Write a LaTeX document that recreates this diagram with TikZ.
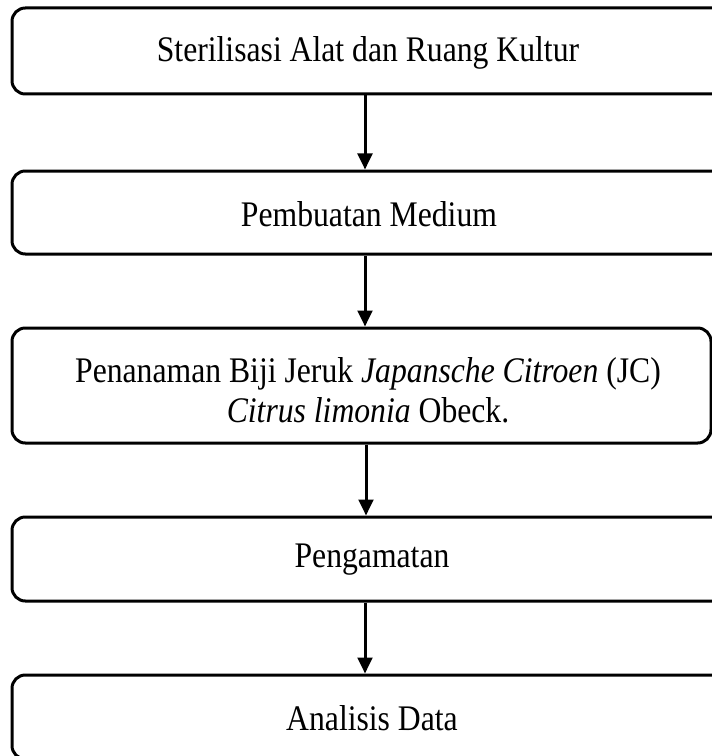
\documentclass[tikz,border=0pt]{standalone}
\usepackage{fontspec}
\setmainfont{Liberation Serif}[FakeStretch=0.88]
\usetikzlibrary{arrows.meta}
\begin{document}
\begin{tikzpicture}[x=0.75pt,y=-0.75pt,
  box/.style={draw=black,line width=2.25pt,rounded corners=10pt,rectangle,inner sep=0pt,align=center,font=\fontsize{27pt}{30pt}\selectfont},
  label/.style={inner sep=0pt,align=center,font=\fontsize{27pt}{30pt}\selectfont},
  flow/.style={draw=black,line width=2.25pt,-{Triangle[width=11pt,length=12pt]}}]
\useasboundingbox (0,0) rectangle (712,756);
\clip (0,0) rectangle (712,756);
\node[box,minimum width=718*0.75pt,minimum height=86*0.75pt] (b1) at (371,51) {};
\node[label] (t1) at (368,53) {Sterilisasi Alat dan Ruang Kultur};
\node[box,minimum width=718*0.75pt,minimum height=83*0.75pt] (b2) at (371,212.5) {};
\node[label] (t2) at (369,214) {Pembuatan Medium};
\node[box,minimum width=699*0.75pt,minimum height=115*0.75pt] (b3) at (361.5,385.5) {};
\node[label] (t3) at (368,390) {Penanaman Biji Jeruk \textit{Japansche Citroen} (JC)\\ \textit{Citrus limonia} Obeck.};
\node[box,minimum width=718*0.75pt,minimum height=84*0.75pt] (b4) at (371,559) {};
\node[label] (t4) at (372,560) {Pengamatan};
\node[box,minimum width=718*0.75pt,minimum height=84*0.75pt] (b5) at (371,717) {};
\node[label] (t5) at (372,718) {Analisis Data};
\draw[flow] (b1.south -| 365,0) -- (b2.north -| 365,0);
\draw[flow] (b2.south -| 365,0) -- (b3.north -| 365,0);
\draw[flow] (b3.south -| 366,0) -- (b4.north -| 366,0);
\draw[flow] (b4.south -| 365,0) -- (b5.north -| 365,0);
\end{tikzpicture}
\end{document}
